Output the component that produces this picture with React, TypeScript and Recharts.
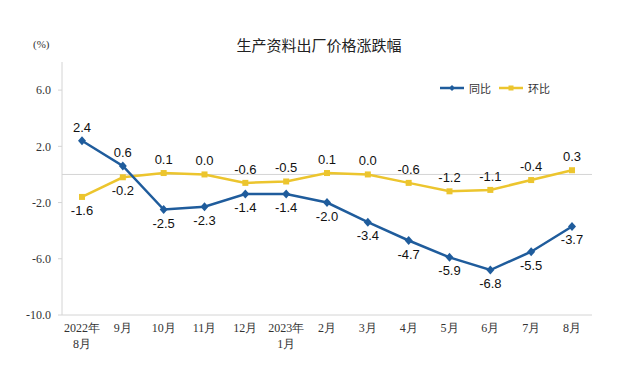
import { LineChart, Line, XAxis, YAxis, ReferenceLine, LabelList } from "recharts";

const months = ["2022年\n8月", "9月", "10月", "11月", "12月", "2023年\n1月", "2月", "3月", "4月", "5月", "6月", "7月", "8月"];
const yoy = [2.4, 0.6, -2.5, -2.3, -1.4, -1.4, -2.0, -3.4, -4.7, -5.9, -6.8, -5.5, -3.7];
const mom = [-1.6, -0.2, 0.1, 0.0, -0.6, -0.5, 0.1, 0.0, -0.6, -1.2, -1.1, -0.4, 0.3];
const yTicks = [-10, -6, -2, 2, 6];

const data = months.map((m, i) => ({ m, yoy: yoy[i], mom: mom[i] }));

const BLUE = "#1f5c9c";
const YELLOW = "#ecc52e";
const GRID = "#d4d4d4";
const PAD = { left: 20, right: 20 };

const MonthTick = ({ x, y, payload }: any) => {
  const lines = String(payload.value).split("\n");
  return (
    <text x={x} y={y} textAnchor="middle" fontFamily="'Liberation Serif', serif" fontSize={12} fill="#333">
      {lines.map((l, i) => (
        <tspan key={i} x={x} dy={i === 0 ? 9 : 16}>{l}</tspan>
      ))}
    </text>
  );
};

// 同比: 前两个点标在上方，其余在下方；环比相反
const makeLabel = (aboveWhen: (i: number) => boolean) => (props: any) => {
  const { x, y, value, index } = props;
  const up = aboveWhen(index);
  return (
    <text x={x} y={up ? y - 9 : y + 18} textAnchor="middle" fontFamily="'Liberation Sans', Arial, sans-serif" fontSize={13} fill="#111">
      {Number(value).toFixed(1)}
    </text>
  );
};

const Diamond = ({ cx, cy }: any) => (
  <path d={`M${cx},${cy - 4.5}L${cx + 4},${cy}L${cx},${cy + 4.5}L${cx - 4},${cy}Z`} fill={BLUE} />
);
const Square = ({ cx, cy }: any) => <rect x={cx - 3} y={cy - 3} width={6} height={6} fill={YELLOW} />;

export default function App() {
  return (
    <div style={{ position: "absolute", left: 0, top: 0, width: 618, height: 381, background: "#fff" }}>
      <div style={{ position: "absolute", left: 0, width: 618, top: 34, textAlign: "center", fontFamily: "'Noto Sans CJK SC', sans-serif", fontSize: 15, color: "#222", paddingLeft: 10 }}>
        生产资料出厂价格涨跌幅
      </div>
      <div style={{ position: "absolute", left: 33, top: 38, fontFamily: "'Liberation Serif', serif", fontSize: 11, color: "#333" }}>(%)</div>
      <div style={{ position: "absolute", left: 440, top: 80, display: "flex", alignItems: "center", fontFamily: "'Noto Sans CJK SC', sans-serif", fontSize: 11, color: "#333" }}>
        <svg width={26} height={10}><line x1={0} y1={5} x2={24} y2={5} stroke={BLUE} strokeWidth={2.5} /><path d="M12,2L15,5L12,8L9,5Z" fill={BLUE} /></svg>
        <span style={{ marginLeft: 3, marginRight: 8 }}>同比</span>
        <svg width={26} height={10}><line x1={0} y1={5} x2={24} y2={5} stroke={YELLOW} strokeWidth={2.5} /><rect x={9.5} y={2.5} width={5} height={5} fill={YELLOW} /></svg>
        <span style={{ marginLeft: 3 }}>环比</span>
      </div>
      <LineChart width={618} height={381} data={data} margin={{ top: 62, right: 26, bottom: 26, left: 0 }}>
        <XAxis dataKey="m" height={40} interval={0} padding={PAD} tick={<MonthTick />} tickLine={false} axisLine={{ stroke: GRID }} />
        <XAxis xAxisId="top" dataKey="m" orientation="top" height={0} padding={PAD} tick={false} tickLine={false} axisLine={{ stroke: GRID }} />
        <YAxis
          width={62}
          domain={[-10, 8]}
          ticks={yTicks}
          interval={0}
          tickSize={4}
          tickLine={{ stroke: GRID }}
          axisLine={{ stroke: GRID }}
          tickFormatter={(v: number) => v.toFixed(1)}
          tick={{ fontFamily: "'Liberation Serif', serif", fontSize: 12, fill: "#333", dx: -5 }}
        />
        <YAxis yAxisId="right" orientation="right" width={0} domain={[0, 1]} tick={false} tickLine={false} axisLine={{ stroke: GRID }} />
        <ReferenceLine y={0} stroke={GRID} strokeWidth={1} />
        <Line dataKey="mom" stroke={YELLOW} strokeWidth={2.5} dot={<Square />} isAnimationActive={false}>
          <LabelList dataKey="mom" content={makeLabel((i) => i >= 2)} />
        </Line>
        <Line dataKey="yoy" stroke={BLUE} strokeWidth={2.5} dot={<Diamond />} isAnimationActive={false}>
          <LabelList dataKey="yoy" content={makeLabel((i) => i < 2)} />
        </Line>
      </LineChart>
    </div>
  );
}
